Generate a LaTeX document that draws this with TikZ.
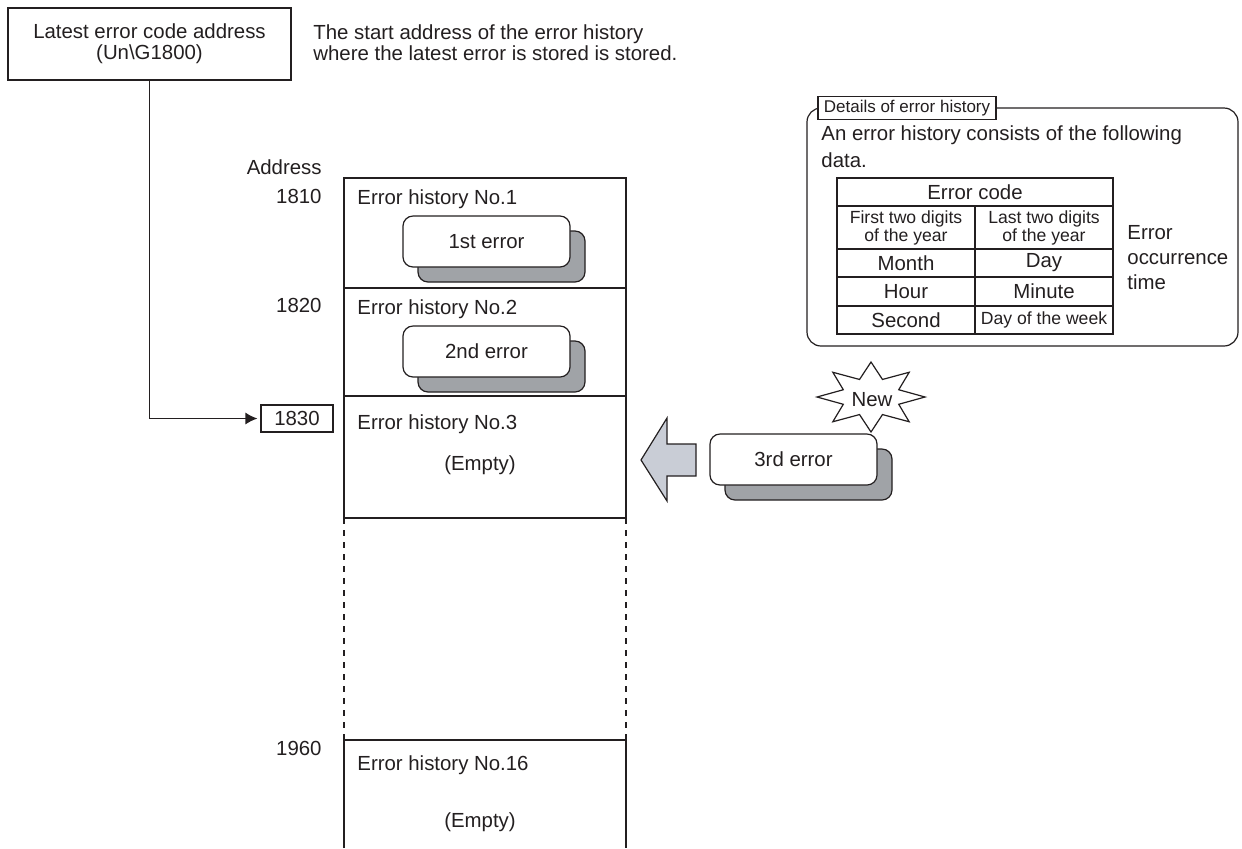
\documentclass[tikz,border=0pt]{standalone}
\usepackage{fontspec}
\setmainfont{Liberation Sans}
\usetikzlibrary{arrows.meta, positioning, calc}
\definecolor{inkgray}{RGB}{35,31,32}
\definecolor{shadowgray}{RGB}{160,163,167}
\definecolor{arrowgray}{RGB}{201,205,214}

\tikzset{
  ink/.style={draw=inkgray, line width=0.6pt},
  txt/.style={text=inkgray, font=\fontsize{10.2}{10.5}\selectfont, inner sep=0pt},
  smalltxt/.style={text=inkgray, font=\fontsize{8.8}{8.6}\selectfont, inner sep=0pt, align=center},
  errfront/.style={ink, fill=white, rounded corners=5pt, minimum width=83.5pt, minimum height=25.5pt, txt},
  errshadow/.style={ink, fill=shadowgray, rounded corners=5pt, minimum width=83.5pt, minimum height=25.5pt},
  addrbox/.style={ink, txt, minimum width=36pt, minimum height=13.5pt},
  tagbox/.style={ink, fill=white, text=inkgray, font=\fontsize{8.5}{10}\selectfont, minimum width=89pt, minimum height=11.5pt, inner sep=0pt},
  conn/.style={ink, -{Latex[length=6pt, width=6pt]}, shorten >=1.5pt}
}

\begin{document}
\begin{tikzpicture}[x=0.5pt, y=-0.5pt]
  \useasboundingbox (0,0) rectangle (1242,848);

  % pointer
  \node[ink, txt, align=center, minimum width=141.5pt, minimum height=36pt] (latest) at (149.5,44)
    {Latest error code address\\(Un\textbackslash G1800)};
  \node[txt, align=left, anchor=north west] (note) at (313,24)
    {The start address of the error history\\where the latest error is stored is stored.};
  \node[addrbox] (a1830) at (297,418.5) {1830};
  \draw[conn] (latest.south) |- (a1830.west);

  % addresses
  \node[txt, anchor=east] (addr) at (322,167) {Address};
  \node[txt, anchor=east] (a1810) at (322,196) {1810};
  \node[txt, anchor=east] (a1820) at (322,305) {1820};
  \node[txt, anchor=east] (a1960) at (322,748) {1960};

  % buffer area
  \draw[ink] (344,518) -- (344,178) -- (626,178) -- (626,518);
  \draw[ink] (344,288) -- (626,288);
  \draw[ink] (344,396) -- (626,396);
  \draw[ink] (344,518) -- (626,518);
  \draw[ink, dashed] (344,518) -- (344,740);
  \draw[ink, dashed] (626,518) -- (626,740);
  \draw[ink] (344,848) -- (344,740) -- (626,740) -- (626,848);

  \node[txt, anchor=west] (h1) at (357,199) {Error history No.1};
  \node[txt, anchor=west] (h2) at (357,309) {Error history No.2};
  \node[txt, anchor=west] (h3) at (357,424) {Error history No.3};
  \node[txt] (empty3) at (480,465) {(Empty)};
  \node[txt, anchor=west] (h16) at (357,765) {Error history No.16};
  \node[txt] (empty16) at (480,822) {(Empty)};

  \node[errshadow] (e1s) at (501.5,256.5) {};
  \node[errfront] (e1) at (486.5,241.5) {1st error};
  \node[errshadow] (e2s) at (501.5,366.5) {};
  \node[errfront] (e2) at (486.5,351.5) {2nd error};

  % new error
  \fill[arrowgray, draw=inkgray, line width=0.6pt, line join=miter]
    (641,460) -- (667,418) -- (667,444) -- (696,444) -- (696,476) -- (667,476) -- (667,501) -- cycle;
  \draw[ink, fill=white, line join=miter]
    plot[samples at={0,22.5,...,337.5}, variable=\a]
    ({871+(42+12*cos(8*\a))*cos(\a)}, {397+(27+8*cos(8*\a))*sin(\a)}) -- cycle;
  \node[txt] (new) at (872,400) {New};
  \node[errshadow] (e3s) at (808.5,474.5) {};
  \node[errfront] (e3) at (793.5,459.5) {3rd error};

  % details
  \draw[ink, rounded corners=7pt] (996,108) -- (1238,108) -- (1238,346) -- (807,346) -- (807,108) -- (818,108);
  \node[tagbox] (tag) at (907,108) {Details of error history};
  \node[txt, align=left, anchor=north west, font=\fontsize{10.2}{13.5}\selectfont] (desc) at (821,125)
    {An error history consists of the following\\data.};

  \draw[ink] (837,178) rectangle (1113,334);
  \foreach \y in {206,249,277,306}
    \draw[ink] (837,\y) -- (1113,\y);
  \draw[ink] (975,206) -- (975,334);
  \node[txt] (tcode) at (975,192) {Error code};
  \node[smalltxt] (tfy) at (906,228) {First two digits\\of the year};
  \node[smalltxt] (tly) at (1044,228) {Last two digits\\of the year};
  \node[txt] (tmon) at (906,263) {Month};
  \node[txt] (tday) at (1044,263) {Day};
  \node[txt] (thr) at (906,291.5) {Hour};
  \node[txt] (tmin) at (1044,291.5) {Minute};
  \node[txt] (tsec) at (906,320) {Second};
  \node[smalltxt] (tdow) at (1044,320) {Day of the week};
  \node[txt, align=left, anchor=west, font=\fontsize{10.2}{12.5}\selectfont] (occ) at (1127,258)
    {Error\\occurrence\\time};
\end{tikzpicture}
\end{document}
